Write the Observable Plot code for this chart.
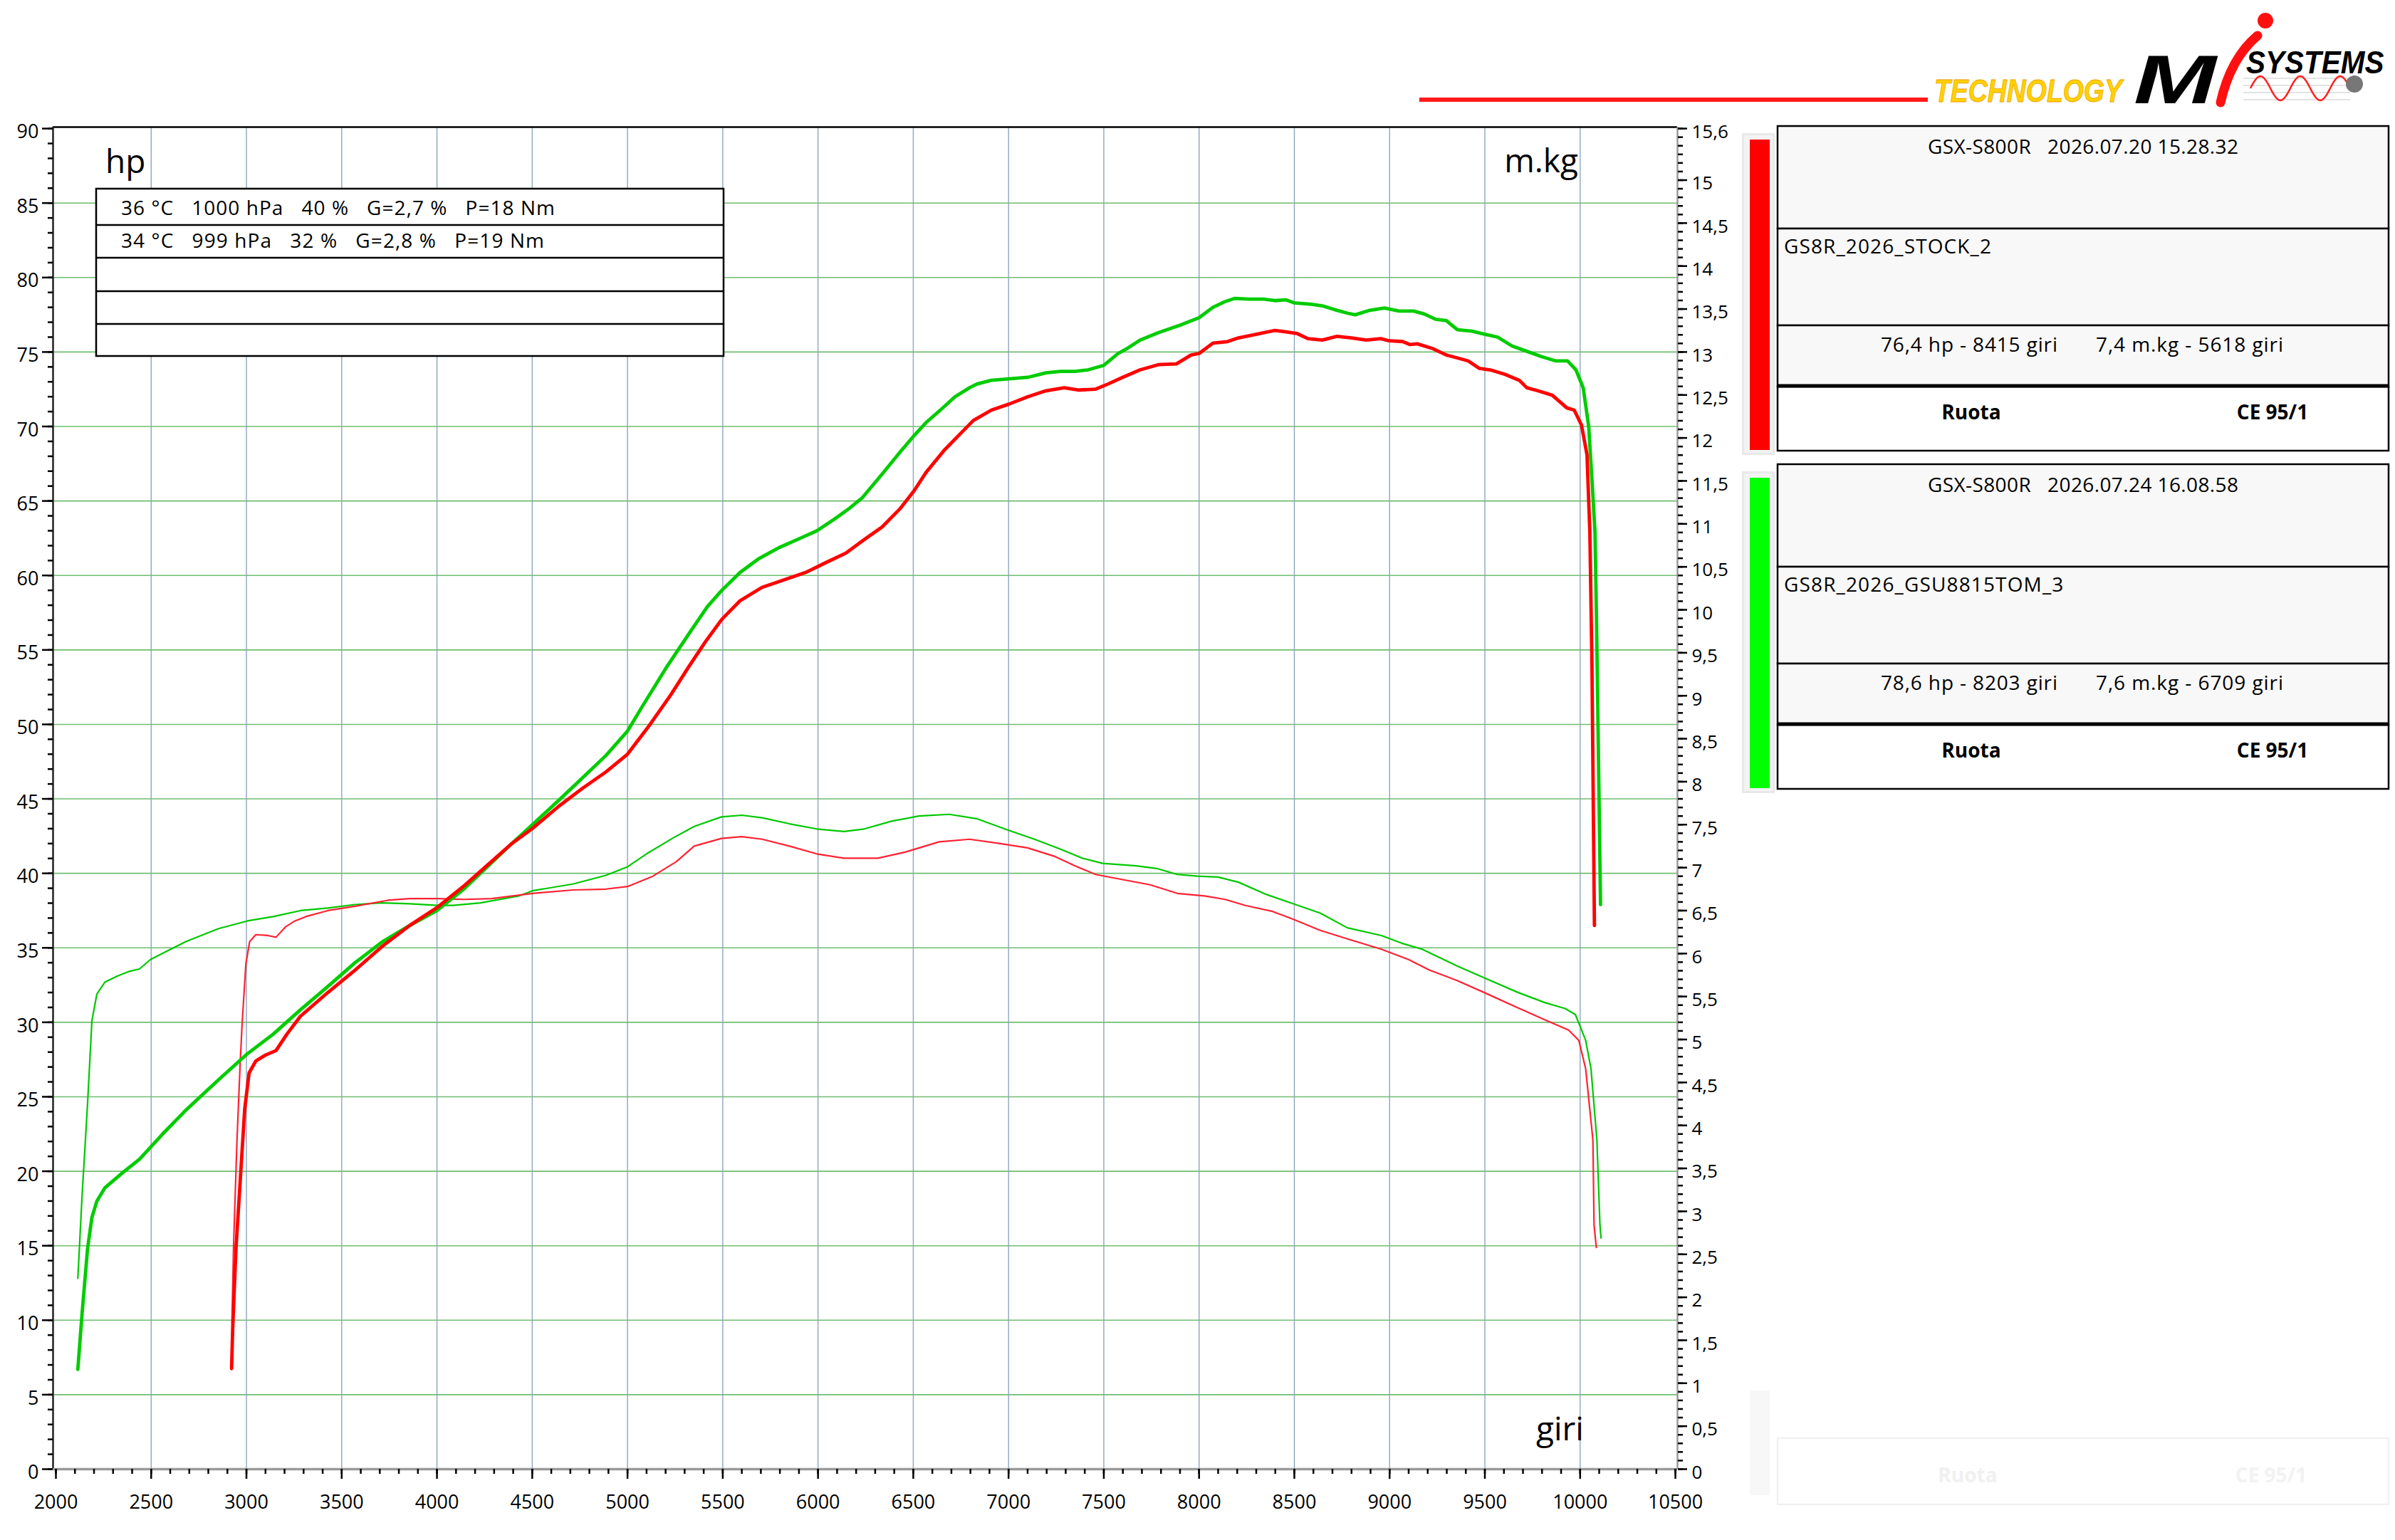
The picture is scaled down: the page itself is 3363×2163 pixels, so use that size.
<!DOCTYPE html>
<html>
<head>
<meta charset="utf-8">
<script src="https://cdn.jsdelivr.net/npm/d3@7"></script>
<script src="https://cdn.jsdelivr.net/npm/@observablehq/plot@0.6"></script>
<style>
html, body { margin:0; padding:0; background:#fff; width:3363px; height:2163px; overflow:hidden; font-family:"Open Sans", sans-serif; }
#chart { position:absolute; left:0; top:0; }
#overlay { position:absolute; left:0; top:0; }
#overlay text { white-space: pre; }
</style>
</head>
<body>
<div id="chart"></div>
<script>
// ---------------- DATA ----------------
// Run 1 (red): GS8R_2026_STOCK_2  — power [rpm, hp]
const powerStock = [[2922,6.75],[2928,9.5],[2945,14.8],[2968,19.5],[2991,24.2],[3014,26.6],[3049,27.4],[3100,27.8],[3155,28.1],[3212,29.2],[3283,30.4],[3427,32.0],[3570,33.5],[3713,35.1],[3857,36.5],[4000,37.7],[4146,39.2],[4269,40.6],[4393,42.0],[4500,43.0],[4639,44.5],[4763,45.7],[4886,46.8],[5000,48.0],[5113,49.9],[5228,52.0],[5323,53.9],[5409,55.55],[5495,57.05],[5591,58.3],[5706,59.2],[5821,59.7],[5935,60.2],[6031,60.8],[6146,61.5],[6242,62.4],[6336,63.25],[6432,64.5],[6505,65.7],[6566,66.9],[6662,68.4],[6738,69.4],[6815,70.4],[6910,71.1],[7002,71.5],[7101,72.0],[7197,72.4],[7292,72.6],[7369,72.45],[7455,72.5],[7522,72.85],[7599,73.3],[7690,73.8],[7786,74.15],[7881,74.2],[7958,74.8],[8000,74.9],[8073,75.6],[8149,75.7],[8207,75.95],[8303,76.2],[8398,76.45],[8456,76.35],[8513,76.25],[8571,75.9],[8647,75.8],[8724,76.05],[8800,75.95],[8877,75.8],[8954,75.9],[8998,75.75],[9069,75.7],[9107,75.5],[9145,75.55],[9222,75.25],[9298,74.8],[9356,74.6],[9413,74.4],[9471,73.9],[9528,73.8],[9605,73.5],[9681,73.1],[9720,72.6],[9777,72.4],[9854,72.1],[9930,71.25],[9969,71.1],[10007,70.1],[10036,68.1],[10051,62.9],[10062,54],[10075,36.5]];
// Run 1 (red) — torque [rpm, m.kg]
const torqueStock = [[2924,1.70],[2932,2.57],[2950,3.81],[2968,4.77],[2977,5.17],[2997,5.88],[3017,6.14],[3049,6.22],[3112,6.21],[3155,6.19],[3205,6.31],[3255,6.38],[3312,6.43],[3427,6.50],[3570,6.55],[3742,6.62],[3857,6.64],[4000,6.64],[4143,6.63],[4286,6.64],[4501,6.70],[4716,6.74],[4886,6.75],[5000,6.78],[5133,6.90],[5257,7.07],[5350,7.25],[5493,7.34],[5600,7.36],[5707,7.33],[5850,7.25],[5993,7.16],[6136,7.11],[6314,7.11],[6457,7.18],[6636,7.30],[6796,7.33],[6957,7.28],[7100,7.23],[7243,7.13],[7350,7.02],[7457,6.92],[7600,6.86],[7743,6.80],[7886,6.70],[8029,6.67],[8136,6.63],[8243,6.56],[8386,6.49],[8493,6.40],[8636,6.27],[8779,6.17],[8957,6.05],[9100,5.93],[9207,5.81],[9350,5.69],[9493,5.55],[9671,5.37],[9814,5.23],[9939,5.11],[9993,4.99],[10029,4.66],[10067,3.83],[10073,2.84],[10085,2.58]];
// Run 2 (green): GS8R_2026_GSU8815TOM_3 — power [rpm, hp]
const powerTom = [[2115,6.7],[2137,10.4],[2166,14.8],[2189,16.9],[2215,18.0],[2258,18.9],[2350,19.9],[2438,20.8],[2560,22.5],[2682,24.1],[2850,26.1],[3006,27.9],[3140,29.2],[3280,30.8],[3427,32.4],[3570,34.0],[3713,35.4],[3857,36.5],[4000,37.5],[4146,39.0],[4269,40.5],[4393,42.0],[4500,43.26],[4639,44.9],[4763,46.4],[4886,47.9],[5000,49.55],[5075,51.15],[5208,53.9],[5323,56.1],[5419,57.9],[5495,59.0],[5591,60.2],[5686,61.1],[5801,61.9],[5916,62.55],[5994,63.0],[6088,63.8],[6164,64.5],[6231,65.2],[6336,66.8],[6432,68.3],[6505,69.4],[6566,70.25],[6642,71.1],[6719,72.0],[6795,72.6],[6834,72.85],[6910,73.1],[7002,73.2],[7101,73.3],[7197,73.6],[7273,73.7],[7350,73.7],[7416,73.8],[7499,74.1],[7575,74.9],[7618,75.2],[7690,75.8],[7786,76.3],[7900,76.8],[8000,77.3],[8073,78.0],[8130,78.35],[8188,78.6],[8264,78.55],[8341,78.55],[8398,78.45],[8456,78.5],[8498,78.3],[8590,78.2],[8647,78.1],[8724,77.8],[8781,77.6],[8820,77.5],[8896,77.8],[8973,77.95],[9049,77.75],[9126,77.75],[9183,77.55],[9241,77.2],[9298,77.1],[9356,76.5],[9432,76.4],[9498,76.2],[9567,76.0],[9643,75.4],[9720,75.05],[9796,74.7],[9873,74.4],[9934,74.4],[9978,73.8],[10016,72.6],[10045,70.0],[10064,66.0],[10078,62.9],[10086,57],[10096,48],[10107,37.9]];
// Run 2 (green) — torque [rpm, m.kg]
const torqueTom = [[2115,2.22],[2137,3.17],[2166,4.25],[2189,5.22],[2215,5.53],[2258,5.67],[2324,5.74],[2381,5.79],[2438,5.82],[2496,5.93],[2567,6.01],[2682,6.14],[2854,6.29],[3006,6.38],[3140,6.43],[3284,6.50],[3427,6.53],[3570,6.57],[3713,6.59],[3857,6.58],[4000,6.56],[4086,6.56],[4229,6.59],[4430,6.67],[4500,6.73],[4716,6.81],[4886,6.91],[5000,7.01],[5100,7.16],[5243,7.35],[5350,7.48],[5493,7.59],[5600,7.61],[5707,7.58],[5850,7.51],[5993,7.45],[6136,7.42],[6243,7.45],[6386,7.54],[6529,7.60],[6689,7.62],[6832,7.57],[6993,7.44],[7136,7.33],[7278,7.21],[7386,7.11],[7493,7.05],[7671,7.02],[7778,6.99],[7886,6.92],[7993,6.90],[8100,6.89],[8207,6.83],[8350,6.69],[8493,6.58],[8636,6.47],[8778,6.30],[8957,6.21],[9064,6.12],[9171,6.05],[9350,5.86],[9493,5.72],[9671,5.55],[9814,5.43],[9921,5.36],[9975,5.29],[10029,4.99],[10057,4.66],[10088,3.83],[10104,2.84],[10110,2.69]];

// tick values / labels
const hpTicks = [0,5,10,15,20,25,30,35,40,45,50,55,60,65,70,75,80,85,90];
const rpmTicks = [2000,2500,3000,3500,4000,4500,5000,5500,6000,6500,7000,7500,8000,8500,9000,9500,10000,10500];
const mkgTicks = [0,0.5,1,1.5,2,2.5,3,3.5,4,4.5,5,5.5,6,6.5,7,7.5,8,8.5,9,9.5,10,10.5,11,11.5,12,12.5,13,13.5,14,14.5,15,15.6];
const mkgMax = 15.6, hpMax = 90;

// texts
const conditions = ["36 °C   1000 hPa   40 %   G=2,7 %   P=18 Nm", "34 °C   999 hPa   32 %   G=2,8 %   P=19 Nm", "", "", ""];
const runTitles = ["GSX-S800R   2026.07.20 15.28.32", "GSX-S800R   2026.07.24 16.08.58"];
const runNames = ["GS8R_2026_STOCK_2", "GS8R_2026_GSU8815TOM_3"];
const runPeakPower = ["76,4 hp - 8415 giri", "78,6 hp - 8203 giri"];
const runPeakTorque = ["7,4 m.kg - 5618 giri", "7,6 m.kg - 6709 giri"];
const runFooter = ["Ruota", "CE 95/1"];
const runColors = ["#ff0000", "#00ff00"];

// ---------------- CHART ----------------
const K = hpMax / mkgMax;
const fmtMkg = d => String(Math.round(d / K * 10) / 10).replace(".", ",");
const X = d => d[0];

const chart = Plot.plot({
  width: 3363, height: 2163,
  marginLeft: 74, marginRight: 3363 - 2355, marginTop: 178, marginBottom: 2163 - 2063,
  x: {domain: [1985, 10511]},
  y: {domain: [0, 90.1]},
  style: {fontFamily: "'Open Sans', sans-serif", fontSize: "27px", background: "white", color: "black", overflow: "visible"},
  marks: [
    Plot.ruleY(hpTicks.filter(d => d > 0 && d < 90), {stroke: "#6fbe6f", strokeWidth: 1.6}),
    Plot.ruleX(rpmTicks.filter(d => d > 2000 && d < 10500), {stroke: "#8ca5bd", strokeWidth: 1.4}),
    Plot.line(torqueTom, {x: X, y: d => d[1] * K, stroke: "#00c800", strokeWidth: 2.2}),
    Plot.line(torqueStock, {x: X, y: d => d[1] * K, stroke: "#ff2233", strokeWidth: 2.2}),
    Plot.line(powerTom, {x: X, y: d => d[1], stroke: "#00cc00", strokeWidth: 4.8}),
    Plot.line(powerStock, {x: X, y: d => d[1], stroke: "#ff0000", strokeWidth: 4.8}),
    // frame
    Plot.ruleY([90.1], {stroke: "black", strokeWidth: 2.5}),
    Plot.ruleX([1985], {stroke: "#222", strokeWidth: 2.5}),
    Plot.ruleY([0], {stroke: "#9a9a9a", strokeWidth: 3.5}),
    Plot.ruleX([10511], {stroke: "#9a9a9a", strokeWidth: 2.5}),
    // left axis
    Plot.axisY(d3.range(0, 91, 1), {anchor: "left", tickSize: 7, tickFormat: () => "", stroke: "black", strokeWidth: 2.5, label: null}),
    Plot.axisY(hpTicks, {anchor: "left", tickSize: 15, tickFormat: () => "", stroke: "black", strokeWidth: 2.5, label: null}),
    Plot.axisY(hpTicks, {anchor: "left", tickSize: 0, tickPadding: 20, tickFormat: d => String(d), fill: "black", fontSize: 27, dy: 5, label: null}),
    // right axis (m.kg)
    Plot.axisY(d3.range(0, 157).map(i => i / 10 * K), {anchor: "right", tickSize: 7, tickFormat: () => "", stroke: "black", strokeWidth: 2.5, label: null}),
    Plot.axisY(mkgTicks.map(v => v * K), {anchor: "right", tickSize: 13, tickFormat: () => "", stroke: "black", strokeWidth: 2.5, label: null}),
    Plot.axisY(mkgTicks.map(v => v * K), {anchor: "right", tickSize: 0, tickPadding: 20, tickFormat: fmtMkg, fill: "black", fontSize: 26, dy: 5, label: null}),
    // bottom axis
    Plot.axisX(d3.range(2000, 10501, 100), {anchor: "bottom", tickSize: 7, tickFormat: () => "", stroke: "black", strokeWidth: 2.5, label: null}),
    Plot.axisX(rpmTicks, {anchor: "bottom", tickSize: 14, tickFormat: () => "", stroke: "black", strokeWidth: 2.5, label: null}),
    Plot.axisX(rpmTicks, {anchor: "bottom", tickSize: 0, tickPadding: 36, tickFormat: d => String(d), fill: "black", fontSize: 27, label: null})
  ]
});
document.getElementById("chart").appendChild(chart);

// ---------------- OVERLAY (labels, info box, legend panels, logo) ----------------
const ov = d3.select("body").append("svg").attr("id", "overlay")
  .attr("width", 3363).attr("height", 2163)
  .style("font-family", "'Open Sans', sans-serif");

function txt(x, y, s, size, opts = {}) {
  const t = ov.append("text").attr("x", x).attr("y", y).text(s)
    .attr("font-size", size).attr("fill", opts.fill || "black")
    .attr("text-anchor", opts.anchor || "start")
    .attr("font-weight", opts.weight || "normal");
  if (opts.len) t.attr("textLength", opts.len).attr("lengthAdjust", "spacing");
  if (opts.stretch) {
    const w = t.node().getComputedTextLength();
    t.attr("textLength", w * opts.stretch).attr("lengthAdjust", "spacing");
  }
  return t;
}

// unit labels
txt(148, 243, "hp", 46);
txt(2216, 242, "m.kg", 46, {anchor: "end"});
txt(2224, 2023, "giri", 46, {anchor: "end"});

// info box
const ib = {x: 135, y: 265, w: 881, rows: [265, 316, 362, 409, 455, 500]};
ov.append("rect").attr("x", ib.x).attr("y", ib.y).attr("width", ib.w).attr("height", ib.rows[5] - ib.rows[0])
  .attr("fill", "white").attr("stroke", "black").attr("stroke-width", 2.5);
ib.rows.slice(1, 5).forEach(y => ov.append("line").attr("x1", ib.x).attr("x2", ib.x + ib.w).attr("y1", y).attr("y2", y)
  .attr("stroke", "black").attr("stroke-width", 2.5));
const condLen = [609, 594];
conditions.forEach((s, i) => { if (s) txt(170, ib.rows[i] + (i === 0 ? 37 : 32), s, 28, {len: condLen[i]}); });

// legend panels
const panelTops = [177, 652];
const PL = 2496, PW = 858;
panelTops.forEach((T, i) => {
  ov.append("rect").attr("x", 2446).attr("y", T + 10).attr("width", 46).attr("height", 452).attr("fill", "#e9e9e9");
  ov.append("rect").attr("x", 2449).attr("y", T + 13).attr("width", 40).attr("height", 446).attr("fill", "#f3f3f3");
  ov.append("rect").attr("x", 2457).attr("y", T + 19).attr("width", 28).attr("height", 436).attr("fill", runColors[i]);
  const rows = [[0, 144, "#f8f8f8"], [144, 280, "#f8f8f8"], [280, 366, "#f8f8f8"], [366, 456, "#ffffff"]];
  rows.forEach(([a, b, c]) => ov.append("rect").attr("x", PL).attr("y", T + a).attr("width", PW).attr("height", b - a)
    .attr("fill", c).attr("stroke", "black").attr("stroke-width", 2.5));
  ov.append("line").attr("x1", PL).attr("x2", PL + PW).attr("y1", T + 365).attr("y2", T + 365)
    .attr("stroke", "black").attr("stroke-width", 5);
  txt(PL + PW / 2, T + 39, runTitles[i], 28, {anchor: "middle", len: 436});
  txt(PL + 9, T + 179, runNames[i], 28, {stretch: 1.065});
  txt(PL + 145, T + 317, runPeakPower[i], 28, {len: 248});
  txt(PL + 447, T + 317, runPeakTorque[i], 28, {len: 263});
  txt(PL + 272, T + 412, runFooter[0], 28, {anchor: "middle", weight: "bold"});
  txt(PL + 695, T + 412, runFooter[1], 28, {anchor: "middle", weight: "bold"});
});
// faint ghost row at the bottom
ov.append("rect").attr("x", 2457).attr("y", 1953).attr("width", 28).attr("height", 147).attr("fill", "#f7f7f7");
ov.append("rect").attr("x", PL).attr("y", 2020).attr("width", PW).attr("height", 93).attr("fill", "none").attr("stroke", "#f1f1f1").attr("stroke-width", 2.5);
txt(PL + 267, 2082, runFooter[0], 28, {anchor: "middle", weight: "bold", fill: "#f0f0f0"});
txt(PL + 693, 2082, runFooter[1], 28, {anchor: "middle", weight: "bold", fill: "#f2f2f2"});

// logo
function logoText(s, x, y, size, sx, fill, stroke) {
  const g = ov.append("g").attr("transform", `translate(${x},${y}) scale(${sx},1)`);
  const t = g.append("text").attr("x", 0).attr("y", 0).text(s)
    .attr("font-family", "'Liberation Sans', Arial, sans-serif").attr("font-weight", "bold").attr("font-style", "italic")
    .attr("font-size", size).attr("fill", fill);
  if (stroke) t.attr("stroke", stroke).attr("stroke-width", 0.8);
  return t;
}
ov.append("line").attr("x1", 1993).attr("x2", 2707).attr("y1", 140).attr("y2", 140).attr("stroke", "#ff1a1a").attr("stroke-width", 6);
logoText("TECHNOLOGY", 2716, 143, 44, 0.85, "#ffd200", "#f0a000");
logoText("M", 2996, 145, 96, 1.45, "black");
for (let k = 0; k < 4; k++) {
  ov.append("line").attr("x1", 3150).attr("x2", 3300).attr("y1", 110 + k * 10).attr("y2", 110 + k * 10).attr("stroke", "#c8c8c8").attr("stroke-width", 1.2);
}
let sp = "";
for (let t = 0; t <= 140; t += 2) {
  const xx = 3160 + t, yy = 124 - 17 * Math.sin(t / 140 * 2.5 * 2 * Math.PI);
  sp += (t === 0 ? "M" : "L") + xx + "," + yy.toFixed(1);
}
ov.append("path").attr("d", sp).attr("fill", "none").attr("stroke", "#ff2020").attr("stroke-width", 2.5);
ov.append("circle").attr("cx", 3306).attr("cy", 118).attr("r", 12).attr("fill", "#777");
ov.append("path").attr("d", "M3118,144 Q3132,82 3170,50").attr("fill", "none").attr("stroke", "#ff1010").attr("stroke-width", 13).attr("stroke-linecap", "round");
ov.append("circle").attr("cx", 3181).attr("cy", 29).attr("r", 11).attr("fill", "#ff1010");
logoText("SYSTEMS", 3154, 103, 44, 0.92, "black");
</script>
</body>
</html>
